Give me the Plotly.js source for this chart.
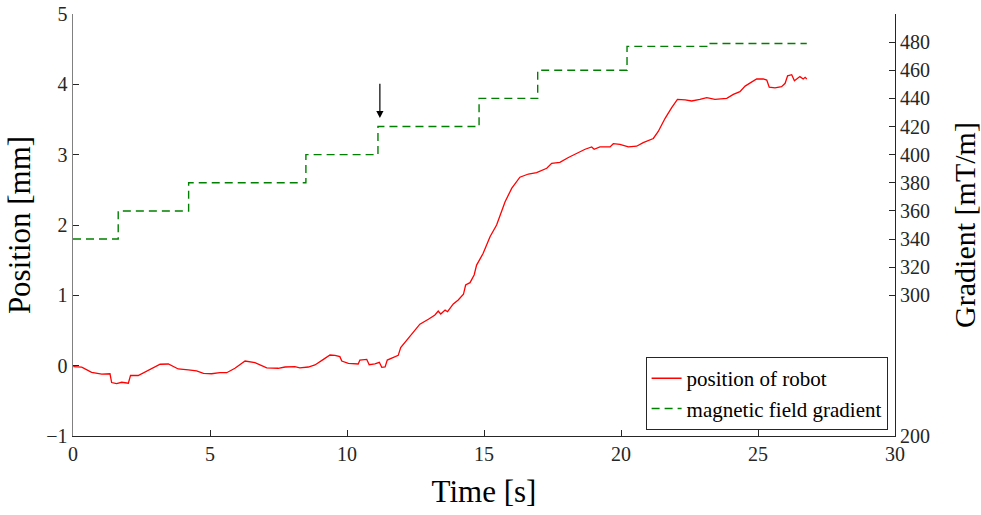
<!DOCTYPE html>
<html>
<head>
<meta charset="utf-8">
<script src="https://cdn.plot.ly/plotly-3.0.1.min.js"></script>
<style>html,body{margin:0;padding:0;background:#fff;}#chart{width:981px;height:515px;}</style>
</head>
<body>
<div id="chart"></div>
<script>
// Robot position (mm) vs time (s)
const posTime = [0.01,0.32,0.68,1.05,1.35,1.41,1.59,1.78,2.02,2.10,2.38,2.81,3.18,3.48,3.84,4.21,4.51,4.76,5.06,5.36,5.61,5.91,6.28,6.64,7.07,7.49,7.74,8.10,8.28,8.59,8.83,9.14,9.38,9.56,9.74,9.81,10.05,10.41,10.47,10.72,10.81,11.02,11.18,11.27,11.39,11.47,11.69,11.87,11.96,12.18,12.42,12.66,12.97,13.21,13.33,13.42,13.58,13.67,13.88,14.06,14.25,14.33,14.49,14.64,14.73,14.97,15.22,15.46,15.77,16.01,16.31,16.62,16.92,17.29,17.47,17.77,18.08,18.38,18.69,18.93,19.02,19.23,19.60,19.72,19.96,20.27,20.57,20.81,21.18,21.36,21.61,21.85,22.06,22.34,22.58,22.88,23.13,23.43,23.86,24.10,24.34,24.53,24.77,24.95,25.19,25.32,25.41,25.62,25.86,25.99,26.08,26.23,26.33,26.53,26.65,26.72,26.78];
const position = [-0.015,-0.02,-0.094,-0.12,-0.115,-0.24,-0.256,-0.236,-0.25,-0.137,-0.14,-0.05,0.02,0.024,-0.047,-0.06,-0.075,-0.11,-0.115,-0.10,-0.10,-0.037,0.066,0.042,-0.03,-0.037,-0.019,-0.015,-0.03,-0.019,0.01,0.09,0.152,0.147,0.128,0.066,0.034,0.024,0.08,0.09,0.014,0.024,0.048,-0.023,-0.019,0.08,0.113,0.147,0.256,0.365,0.483,0.59,0.66,0.72,0.777,0.735,0.79,0.767,0.877,0.934,1.015,1.147,1.18,1.29,1.43,1.597,1.834,2.0,2.33,2.52,2.68,2.725,2.744,2.806,2.877,2.89,2.96,3.02,3.077,3.11,3.077,3.11,3.11,3.156,3.147,3.11,3.12,3.17,3.23,3.33,3.517,3.668,3.787,3.778,3.763,3.787,3.81,3.787,3.80,3.857,3.895,3.975,4.03,4.076,4.076,4.06,3.96,3.95,3.967,4.015,4.12,4.137,4.05,4.11,4.076,4.10,4.076];

// Magnetic field gradient (mT/m) steps
const gradTime = [0, 1.65, 4.22, 8.5, 11.13, 14.82, 16.96, 20.22, 23.13, 26.78];
const gradient = [340, 360, 380, 400, 420, 440, 460, 477, 479, 479];

// Axis ticks
const xTicks = [0, 5, 10, 15, 20, 25, 30];
const yTicks = [-1, 0, 1, 2, 3, 4, 5];
const y2Ticks = [200, 300, 320, 340, 360, 380, 400, 420, 440, 460, 480];

// Arrow marker location
const arrowT = [11.2];
const arrowTip = [3.52];
const arrowTail = [4.03];

const font = 'Liberation Serif, Times New Roman, serif';
const dark = '#262626';

const traces = [
  {x: posTime, y: position, type: 'scatter', mode: 'lines', name: 'position of robot',
   line: {color: '#ff0000', width: 1.3}, yaxis: 'y'},
  {x: gradTime, y: gradient, type: 'scatter', mode: 'lines', name: 'magnetic field gradient',
   line: {color: '#008000', width: 1.4, dash: '8px,5px', shape: 'hv'}, yaxis: 'y2'}
];

const layout = {
  width: 981, height: 515,
  margin: {l: 73, r: 86, t: 14, b: 79},
  paper_bgcolor: '#fff', plot_bgcolor: '#fff',
  font: {family: font, color: dark, size: 20},
  showlegend: true,
  legend: {x: 0.991, y: 0.014, xanchor: 'right', yanchor: 'bottom',
    bgcolor: '#fff', bordercolor: dark, borderwidth: 1, itemwidth: 30,
    font: {family: font, size: 21, color: '#000'}, tracegroupgap: 0},
  xaxis: {range: [0, 30], tickvals: xTicks, ticks: 'inside', ticklen: 6, tickcolor: dark,
    showline: true, linecolor: dark, linewidth: 1, showgrid: false, zeroline: false,
    tickfont: {family: font, size: 20, color: dark},
    title: {text: 'Time [s]', font: {family: font, size: 31, color: '#000'}, standoff: 16}},
  yaxis: {range: [-1, 5], tickvals: yTicks, ticks: 'inside', ticklen: 6, tickcolor: dark,
    showline: true, linecolor: '#808080', linewidth: 1.5, showgrid: false, zeroline: false,
    tickfont: {family: font, size: 20, color: dark},
    title: {text: 'Position [mm]', font: {family: font, size: 31, color: '#000'}, standoff: 6}},
  yaxis2: {range: [200, 500], tickvals: y2Ticks, ticks: 'inside', ticklen: 6, tickcolor: dark,
    overlaying: 'y', side: 'right', showline: true, linecolor: dark, linewidth: 1,
    showgrid: false, zeroline: false,
    tickfont: {family: font, size: 20, color: dark},
    title: {text: 'Gradient [mT/m]', font: {family: font, size: 30, color: '#000'}, standoff: 24}},
  annotations: [{
    x: arrowT[0], y: arrowTip[0], ax: arrowT[0], ay: arrowTail[0],
    xref: 'x', yref: 'y', axref: 'x', ayref: 'y',
    showarrow: true, arrowhead: 2, arrowsize: 1.2, arrowwidth: 1.2, arrowcolor: '#000', text: ''
  }]
};

Plotly.newPlot('chart', traces, layout, {displayModeBar: false, staticPlot: true});
</script>
</body>
</html>
